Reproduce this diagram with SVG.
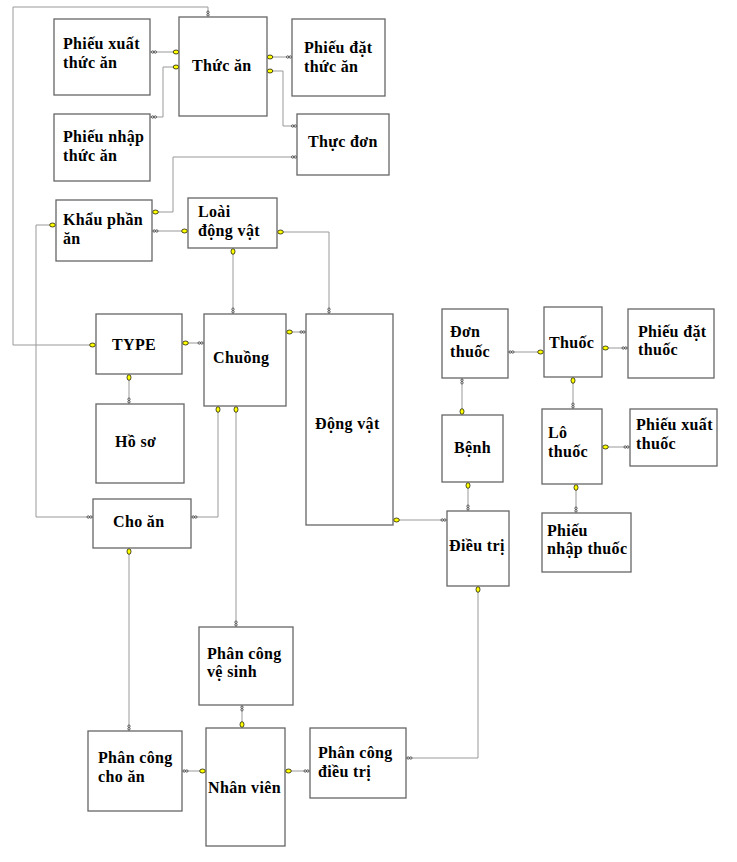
<svg xmlns="http://www.w3.org/2000/svg" xmlns:xlink="http://www.w3.org/1999/xlink" width="737" height="862" viewBox="0 0 737 862">
<style>
.box{fill:#fff;stroke:#666;stroke-width:1.3}
.t{font-family:"Liberation Serif","Times New Roman",serif;font-weight:bold;font-size:16px;letter-spacing:0.35px;fill:#000}
.c{fill:none;stroke:#999;stroke-width:1}
.one{fill:#ff0;stroke:#000;stroke-width:0.7}
.many{fill:#fff;stroke:#000;stroke-width:0.6}
</style>
<defs>
<ellipse id="oh" rx="2.8" ry="2" class="one"/>
<ellipse id="ov" rx="2" ry="2.8" class="one"/>
<g id="mh" class="many"><circle cx="-1.3" r="1.2"/><circle cx="1.3" r="1.2"/></g>
<g id="mv" class="many"><circle cy="-1.3" r="1.2"/><circle cy="1.3" r="1.2"/></g>
</defs>
<rect width="737" height="862" fill="#fff"/>
<g id="connectors">
<path class="c" d="M150,52H179"/>
<path class="c" d="M150,117H163V67H179"/>
<path class="c" d="M267,57H292"/>
<path class="c" d="M267,71H283V126H297"/>
<path class="c" d="M297,157H173V212H152"/>
<path class="c" d="M208,17V7H13V345H96"/>
<path class="c" d="M152,231H188"/>
<path class="c" d="M277,232H329V314"/>
<path class="c" d="M233,248V314"/>
<path class="c" d="M182,343H204"/>
<path class="c" d="M286,332H306"/>
<path class="c" d="M56,225H36V517H93"/>
<path class="c" d="M129,374V404"/>
<path class="c" d="M191,517H218V406"/>
<path class="c" d="M236,406V627"/>
<path class="c" d="M129,548V731"/>
<path class="c" d="M242,705V728"/>
<path class="c" d="M182,771H206"/>
<path class="c" d="M285,771H310"/>
<path class="c" d="M406,758H478V586"/>
<path class="c" d="M393,520H447"/>
<path class="c" d="M468,482V511"/>
<path class="c" d="M462,378V415"/>
<path class="c" d="M508,352H544"/>
<path class="c" d="M602,348H628"/>
<path class="c" d="M573,377V409"/>
<path class="c" d="M602,447H630"/>
<path class="c" d="M576,484V513"/>
<use href="#mh" x="154" y="52"/><use href="#oh" x="176" y="52"/>
<use href="#mh" x="154" y="117"/><use href="#oh" x="176" y="67"/>
<use href="#oh" x="270" y="57"/><use href="#mh" x="289" y="57"/>
<use href="#oh" x="270" y="71"/><use href="#mh" x="294" y="126"/>
<use href="#mh" x="294" y="157"/><use href="#oh" x="155.5" y="212"/>
<use href="#mv" x="208" y="13.5"/><use href="#oh" x="92.5" y="345"/>
<use href="#mh" x="155.5" y="231"/><use href="#oh" x="184.5" y="231"/>
<use href="#oh" x="280.5" y="232"/><use href="#mv" x="329" y="310.5"/>
<use href="#ov" x="233" y="251.5"/><use href="#mv" x="233" y="310.5"/>
<use href="#oh" x="185.5" y="343"/><use href="#mh" x="200.5" y="343"/>
<use href="#oh" x="289.5" y="332"/><use href="#mh" x="302.5" y="332"/>
<use href="#oh" x="52.5" y="225"/><use href="#mh" x="89.5" y="517"/>
<use href="#ov" x="129" y="377.5"/><use href="#mv" x="129" y="400.5"/>
<use href="#mh" x="194.5" y="517"/><use href="#ov" x="218" y="409.5"/>
<use href="#ov" x="236" y="409.5"/><use href="#mv" x="236" y="623.5"/>
<use href="#ov" x="129" y="551.5"/><use href="#mv" x="129" y="727.5"/>
<use href="#mv" x="242" y="708.5"/><use href="#ov" x="242" y="724.5"/>
<use href="#mh" x="185.5" y="771"/><use href="#oh" x="202.5" y="771"/>
<use href="#oh" x="288.5" y="771"/><use href="#mh" x="306.5" y="771"/>
<use href="#mh" x="409.5" y="758"/><use href="#ov" x="478" y="589.5"/>
<use href="#oh" x="396.5" y="520"/><use href="#mh" x="443.5" y="520"/>
<use href="#ov" x="468" y="485.5"/><use href="#mv" x="468" y="507.5"/>
<use href="#mv" x="462" y="381.5"/><use href="#ov" x="462" y="411.5"/>
<use href="#mh" x="511.5" y="352"/><use href="#oh" x="540.5" y="352"/>
<use href="#oh" x="605.5" y="348"/><use href="#mh" x="624.5" y="348"/>
<use href="#ov" x="573" y="380.5"/><use href="#mv" x="573" y="405.5"/>
<use href="#oh" x="605.5" y="447"/><use href="#mh" x="626.5" y="447"/>
<use href="#ov" x="576" y="487.5"/><use href="#mv" x="576" y="509.5"/>
</g>
<g id="phieu-xuat-thuc-an"><rect class="box" x="54" y="19" width="96" height="76"/><text class="t" x="63" y="49">Phiếu xuất</text><text class="t" x="63" y="68">thức ăn</text></g>
<g id="thuc-an"><rect class="box" x="179" y="17" width="88" height="99"/><text class="t" x="192" y="71">Thức ăn</text></g>
<g id="phieu-dat-thuc-an"><rect class="box" x="292" y="19" width="93" height="77"/><text class="t" x="304" y="53">Phiếu đặt</text><text class="t" x="304" y="72">thức ăn</text></g>
<g id="phieu-nhap-thuc-an"><rect class="box" x="54" y="114" width="96" height="67"/><text class="t" x="63" y="142">Phiếu nhập</text><text class="t" x="63" y="161">thức ăn</text></g>
<g id="thuc-don"><rect class="box" x="297" y="114" width="92" height="61"/><text class="t" x="308" y="147">Thực đơn</text></g>
<g id="khau-phan-an"><rect class="box" x="56" y="200" width="96" height="61"/><text class="t" x="63" y="225">Khẩu phần</text><text class="t" x="63" y="244">ăn</text></g>
<g id="loai-dong-vat"><rect class="box" x="188" y="198" width="89" height="50"/><text class="t" x="198" y="217">Loài</text><text class="t" x="198" y="236">động vật</text></g>
<g id="type"><rect class="box" x="96" y="314" width="86" height="60"/><text class="t" x="112" y="350">TYPE</text></g>
<g id="chuong"><rect class="box" x="204" y="314" width="82" height="92"/><text class="t" x="213" y="363">Chuồng</text></g>
<g id="dong-vat"><rect class="box" x="306" y="314" width="87" height="211"/><text class="t" x="315" y="429">Động vật</text></g>
<g id="ho-so"><rect class="box" x="96" y="404" width="88" height="79"/><text class="t" x="115" y="447">Hồ sơ</text></g>
<g id="cho-an"><rect class="box" x="93" y="499" width="98" height="49"/><text class="t" x="113" y="527">Cho ăn</text></g>
<g id="don-thuoc"><rect class="box" x="442" y="309" width="66" height="69"/><text class="t" x="450" y="337">Đơn</text><text class="t" x="450" y="357">thuốc</text></g>
<g id="thuoc"><rect class="box" x="544" y="307" width="58" height="70"/><text class="t" x="549" y="348">Thuốc</text></g>
<g id="phieu-dat-thuoc"><rect class="box" x="628" y="309" width="86" height="69"/><text class="t" x="638" y="337">Phiếu đặt</text><text class="t" x="638" y="355">thuốc</text></g>
<g id="benh"><rect class="box" x="442" y="415" width="61" height="67"/><text class="t" x="454" y="453">Bệnh</text></g>
<g id="lo-thuoc"><rect class="box" x="542" y="409" width="60" height="75"/><text class="t" x="548" y="438">Lô</text><text class="t" x="548" y="457">thuốc</text></g>
<g id="phieu-xuat-thuoc"><rect class="box" x="630" y="409" width="87" height="57"/><text class="t" x="636" y="430">Phiếu xuất</text><text class="t" x="636" y="449">thuốc</text></g>
<g id="dieu-tri"><rect class="box" x="447" y="511" width="62" height="75"/><text class="t" x="449" y="551">Điều trị</text></g>
<g id="phieu-nhap-thuoc"><rect class="box" x="542" y="513" width="89" height="59"/><text class="t" x="547" y="536">Phiếu</text><text class="t" x="547" y="554">nhập thuốc</text></g>
<g id="phan-cong-ve-sinh"><rect class="box" x="199" y="627" width="94" height="78"/><text class="t" x="207" y="659">Phân công</text><text class="t" x="207" y="677">vệ sinh</text></g>
<g id="phan-cong-cho-an"><rect class="box" x="88" y="731" width="94" height="80"/><text class="t" x="98" y="763">Phân công</text><text class="t" x="98" y="782">cho ăn</text></g>
<g id="nhan-vien"><rect class="box" x="206" y="728" width="79" height="118"/><text class="t" x="208" y="793">Nhân viên</text></g>
<g id="phan-cong-dieu-tri"><rect class="box" x="310" y="728" width="96" height="70"/><text class="t" x="318" y="758">Phân công</text><text class="t" x="318" y="777">điều trị</text></g>
</svg>
